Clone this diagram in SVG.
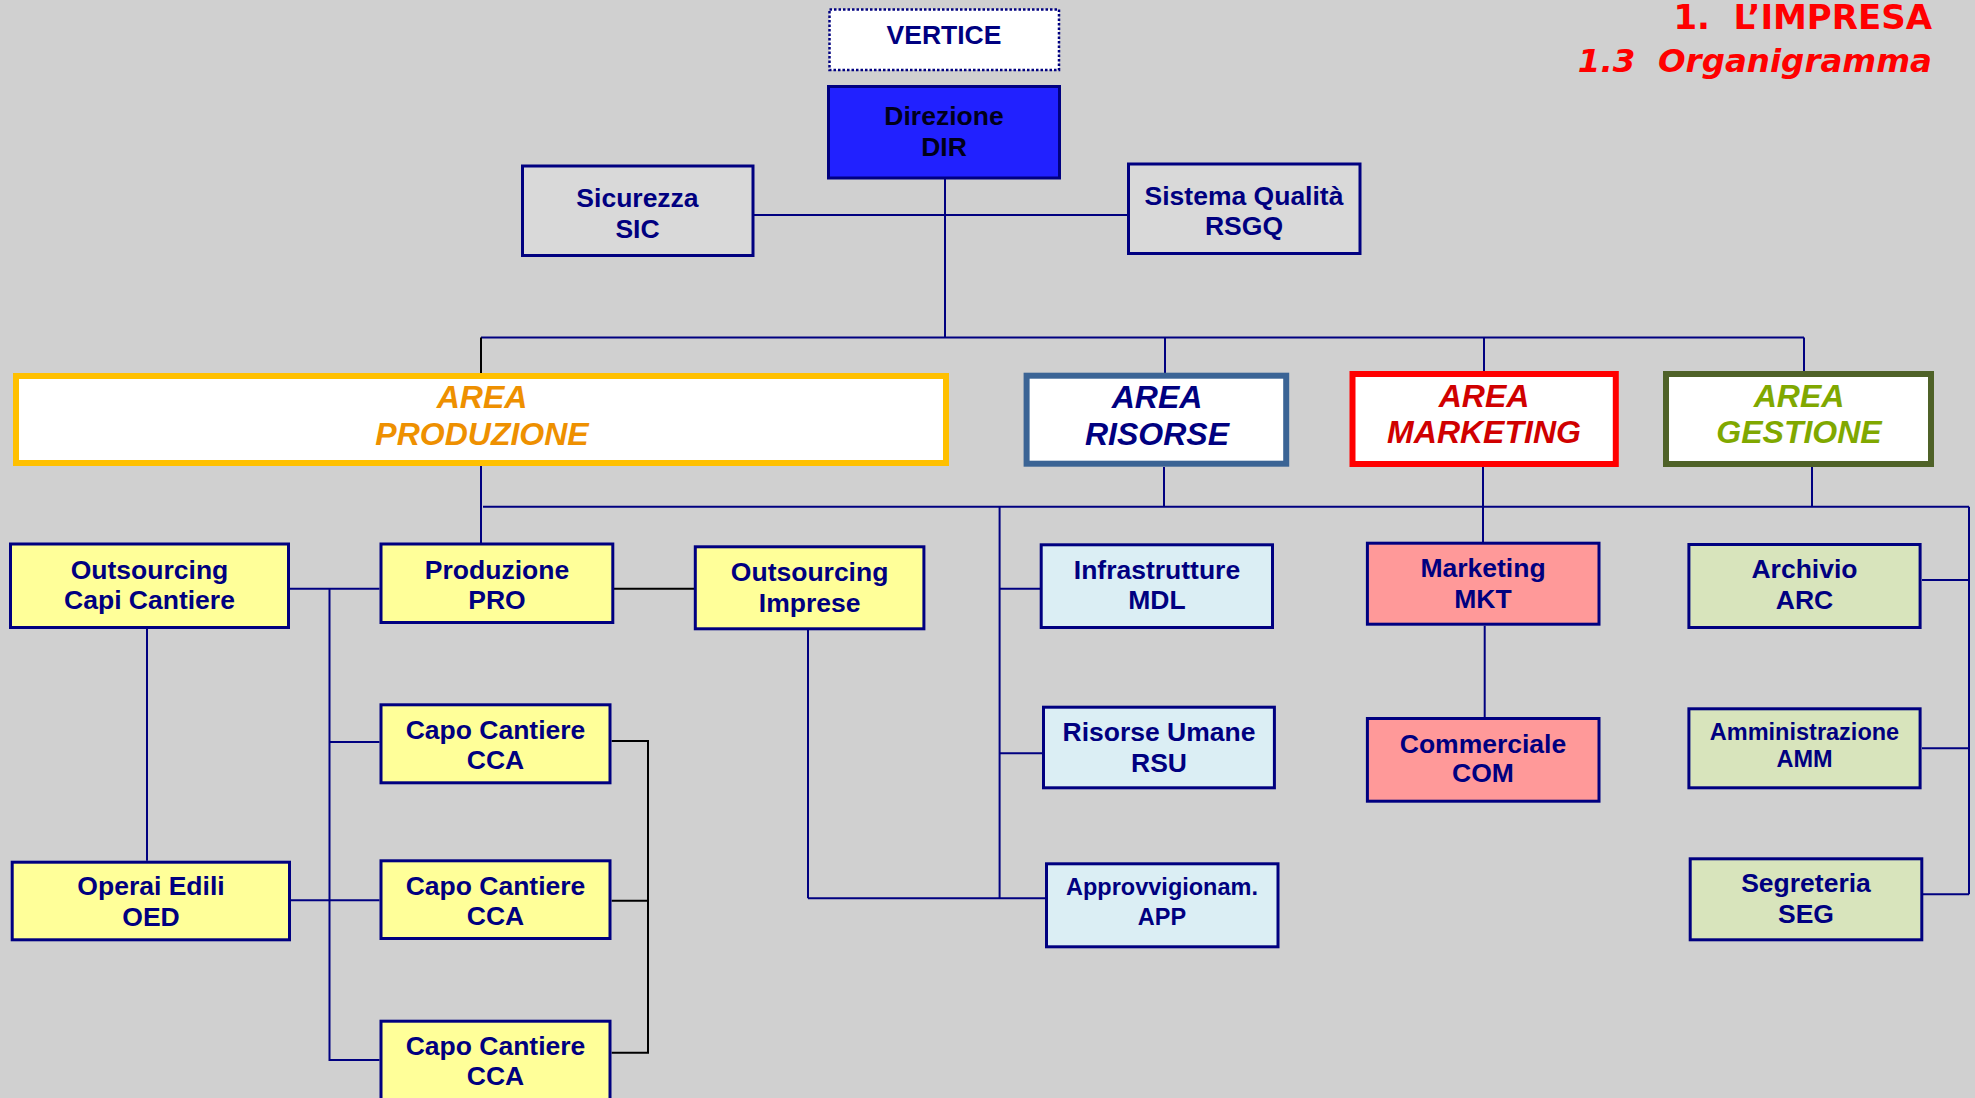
<svg xmlns="http://www.w3.org/2000/svg" width="1975" height="1098" viewBox="0 0 1975 1098">
<style>
.bg{fill:#d0d0d0}
.box{stroke:#000080;stroke-width:3}
.t{font-family:"Liberation Sans",Arial,sans-serif;font-weight:bold;font-size:26.5px;fill:#000080;text-anchor:middle}
.ts{font-size:23.5px}
.area{font-family:"Liberation Sans",Arial,sans-serif;font-weight:bold;font-style:italic;font-size:32px;text-anchor:middle}
.yel{fill:#ffff99}
.blu{fill:#dbeef4}
.pnk{fill:#ff9999}
.grn{fill:#d8e4bc}
.ln{stroke:#000080;stroke-width:2;fill:none}
.lk{stroke:#000000;stroke-width:2;fill:none}
.title{font-family:"DejaVu Sans",Verdana,sans-serif;font-weight:bold;fill:#ff0000;text-anchor:end}
</style>
<rect class="bg" x="0" y="0" width="1975" height="1098"/>

<g id="titles">
<text class="title" x="1932" y="29" font-size="34" xml:space="preserve">1.  L’IMPRESA</text>
<text class="title" x="1932" y="72" font-size="32.5" font-style="italic" xml:space="preserve">1.3  Organigramma</text>
</g>

<g id="connectors">
<line class="ln" x1="754" y1="215" x2="1127" y2="215"/>
<line class="ln" x1="945" y1="179" x2="945" y2="337.5"/>
<line class="ln" x1="481" y1="337.5" x2="1804" y2="337.5"/>
<line class="lk" x1="481" y1="337.5" x2="481" y2="374"/>
<line class="ln" x1="1165" y1="337.5" x2="1165" y2="373"/>
<line class="ln" x1="1484" y1="337.5" x2="1484" y2="372"/>
<line class="ln" x1="1804" y1="337.5" x2="1804" y2="372"/>
<line class="ln" x1="481" y1="466" x2="481" y2="543"/>
<line class="ln" x1="483" y1="506.7" x2="1969" y2="506.7"/>
<line class="ln" x1="1164" y1="467" x2="1164" y2="506.7"/>
<line class="ln" x1="1483" y1="467" x2="1483" y2="542"/>
<line class="ln" x1="1812" y1="467" x2="1812" y2="506.7"/>
<line class="ln" x1="1969" y1="506.7" x2="1969" y2="894.3"/>
<line class="ln" x1="1922" y1="580" x2="1969" y2="580"/>
<line class="ln" x1="1922" y1="748.3" x2="1969" y2="748.3"/>
<line class="ln" x1="1922" y1="894.3" x2="1969" y2="894.3"/>
<line class="ln" x1="999.6" y1="506.7" x2="999.6" y2="898.3"/>
<line class="ln" x1="999.6" y1="588.7" x2="1040" y2="588.7"/>
<line class="ln" x1="999.6" y1="753.3" x2="1042" y2="753.3"/>
<line class="ln" x1="808" y1="630" x2="808" y2="898.3"/>
<line class="ln" x1="808" y1="898.3" x2="1045" y2="898.3"/>
<line class="ln" x1="1484.7" y1="625.7" x2="1484.7" y2="717"/>
<line class="lk" x1="614" y1="588.7" x2="694" y2="588.7"/>
<line class="ln" x1="290" y1="588.7" x2="379.5" y2="588.7"/>
<polyline class="ln" points="329.5,588.7 329.5,1060 379.5,1060"/>
<line class="ln" x1="329.5" y1="742" x2="379.5" y2="742"/>
<line class="ln" x1="291" y1="900.3" x2="379.5" y2="900.3"/>
<line class="ln" x1="147" y1="629" x2="147" y2="860.7"/>
<polyline class="lk" points="611.6,741 648,741 648,1052.7 611.6,1052.7"/>
<line class="lk" x1="611.6" y1="900.7" x2="648" y2="900.7"/>
</g>

<g id="vertice">
<rect x="829.5" y="9.5" width="229.5" height="60.5" fill="#ffffff" stroke="#000080" stroke-width="2.5" stroke-dasharray="2.5,2"/>
<text class="t" x="944" y="44">VERTICE</text>
</g>
<g id="dir">
<rect class="box" x="828.5" y="86.5" width="231" height="91.5" fill="#2121ff"/>
<text class="t" x="944" y="125" style="fill:#00001a">Direzione</text>
<text class="t" x="944" y="156" style="fill:#00001a">DIR</text>
</g>
<g id="sic">
<rect class="box" x="522.5" y="166" width="230.5" height="89.5" fill="#d9d9d9"/>
<text class="t" x="637.5" y="206.5">Sicurezza</text>
<text class="t" x="637.5" y="237.5">SIC</text>
</g>
<g id="rsgq">
<rect class="box" x="1128.5" y="164" width="231.5" height="89.5" fill="#d9d9d9"/>
<text class="t" x="1244" y="205">Sistema Qualità</text>
<text class="t" x="1244" y="235">RSGQ</text>
</g>

<g id="area-produzione">
<rect x="16" y="376" width="930" height="87" fill="#ffffff" stroke="#ffc000" stroke-width="6"/>
<text class="area" x="482" y="408.3" fill="#ee9000">AREA</text>
<text class="area" x="482" y="445.3" fill="#ee9000">PRODUZIONE</text>
</g>
<g id="area-risorse">
<rect x="1026.6" y="375.7" width="259.6" height="88" fill="#ffffff" stroke="#3b6495" stroke-width="6"/>
<text class="area" x="1157" y="408.3" fill="#000080">AREA</text>
<text class="area" x="1157" y="445" fill="#000080">RISORSE</text>
</g>
<g id="area-marketing">
<rect x="1352.5" y="374" width="263.3" height="90" fill="#ffffff" stroke="#ff0000" stroke-width="6"/>
<text class="area" x="1484" y="406.7" fill="#d00000">AREA</text>
<text class="area" x="1484" y="443.3" fill="#d00000">MARKETING</text>
</g>
<g id="area-gestione">
<rect x="1666" y="374" width="265" height="90" fill="#ffffff" stroke="#4f6228" stroke-width="6"/>
<text class="area" x="1799" y="406.7" fill="#80a800">AREA</text>
<text class="area" x="1799" y="443.3" fill="#80a800">GESTIONE</text>
</g>

<g id="occ">
<rect class="box yel" x="10.5" y="544" width="278" height="83.5"/>
<text class="t" x="149.5" y="579">Outsourcing</text>
<text class="t" x="149.5" y="609">Capi Cantiere</text>
</g>
<g id="pro">
<rect class="box yel" x="381" y="544" width="231.8" height="78.5"/>
<text class="t" x="497" y="579">Produzione</text>
<text class="t" x="497" y="609">PRO</text>
</g>
<g id="oi">
<rect class="box yel" x="695.3" y="546.8" width="228.6" height="82"/>
<text class="t" x="809.6" y="581">Outsourcing</text>
<text class="t" x="809.6" y="611.5">Imprese</text>
</g>
<g id="cca1">
<rect class="box yel" x="381" y="704.8" width="229" height="78"/>
<text class="t" x="495.5" y="738.5">Capo Cantiere</text>
<text class="t" x="495.5" y="768.5">CCA</text>
</g>
<g id="cca2">
<rect class="box yel" x="381" y="860.8" width="229" height="77.7"/>
<text class="t" x="495.5" y="895">Capo Cantiere</text>
<text class="t" x="495.5" y="925">CCA</text>
</g>
<g id="cca3">
<rect class="box yel" x="381" y="1021.2" width="229" height="90"/>
<text class="t" x="495.5" y="1055">Capo Cantiere</text>
<text class="t" x="495.5" y="1085">CCA</text>
</g>
<g id="oed">
<rect class="box yel" x="12.2" y="862.2" width="277.3" height="77.6"/>
<text class="t" x="151" y="895">Operai Edili</text>
<text class="t" x="151" y="926">OED</text>
</g>

<g id="mdl">
<rect class="box blu" x="1041.2" y="544.8" width="231.3" height="82.7"/>
<text class="t" x="1157" y="579">Infrastrutture</text>
<text class="t" x="1157" y="609.3">MDL</text>
</g>
<g id="rsu">
<rect class="box blu" x="1043.5" y="707.2" width="230.9" height="80.6"/>
<text class="t" x="1159" y="740.7">Risorse Umane</text>
<text class="t" x="1159" y="771.7">RSU</text>
</g>
<g id="app">
<rect class="box blu" x="1046.5" y="863.8" width="231.5" height="83"/>
<text class="t ts" x="1162" y="895">Approvvigionam.</text>
<text class="t ts" x="1162" y="925">APP</text>
</g>

<g id="mkt">
<rect class="box pnk" x="1367.4" y="543.2" width="231.6" height="81"/>
<text class="t" x="1483" y="576.7">Marketing</text>
<text class="t" x="1483" y="607.7">MKT</text>
</g>
<g id="com">
<rect class="box pnk" x="1367.4" y="718.5" width="231.6" height="82.7"/>
<text class="t" x="1483" y="752.7">Commerciale</text>
<text class="t" x="1483" y="782.3">COM</text>
</g>

<g id="arc">
<rect class="box grn" x="1688.9" y="544.5" width="231.2" height="83"/>
<text class="t" x="1804.5" y="578.3">Archivio</text>
<text class="t" x="1804.5" y="609.3">ARC</text>
</g>
<g id="amm">
<rect class="box grn" x="1688.9" y="708.8" width="231.2" height="79"/>
<text class="t ts" x="1804.5" y="740">Amministrazione</text>
<text class="t ts" x="1804.5" y="767.3">AMM</text>
</g>
<g id="seg">
<rect class="box grn" x="1690.2" y="858.8" width="231.6" height="81"/>
<text class="t" x="1806" y="891.7">Segreteria</text>
<text class="t" x="1806" y="923.3">SEG</text>
</g>
</svg>
